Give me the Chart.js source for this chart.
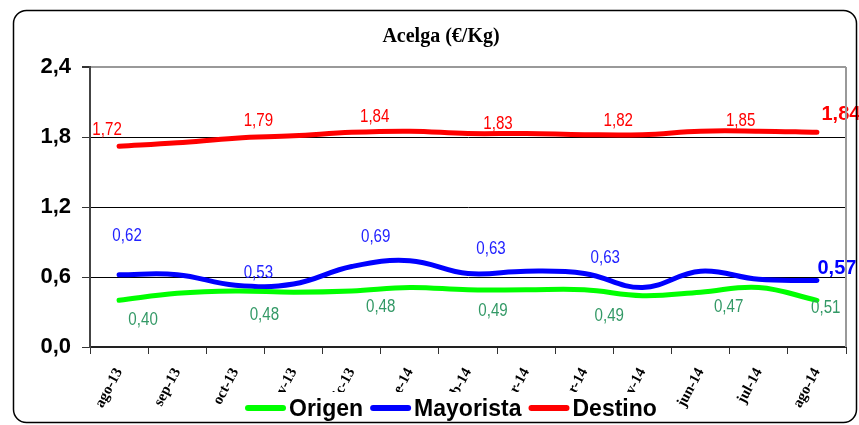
<!DOCTYPE html>
<html>
<head>
<meta charset="utf-8">
<script src="https://cdn.jsdelivr.net/npm/chart.js@4.4.1/dist/chart.umd.min.js"></script>
<style>
  body { margin: 0; background: #fff; }
</style>
</head>
<body>
<canvas id="myChart" width="859" height="425"></canvas>
<script>
const months = ["ago-13", "sep-13", "oct-13", "nov-13", "dic-13", "ene-14", "feb-14",
  "mar-14", "abr-14", "may-14", "jun-14", "jul-14", "ago-14"];
const origen = [0.40, 0.46, 0.48, 0.47, 0.48, 0.51, 0.49, 0.49, 0.49, 0.44, 0.47, 0.51, 0.40];
const mayorista = [0.62, 0.62, 0.53, 0.54, 0.69, 0.74, 0.63, 0.65, 0.63, 0.51, 0.65, 0.58, 0.57];
const destino = [1.72, 1.75, 1.79, 1.81, 1.84, 1.85, 1.83, 1.83, 1.82, 1.82, 1.85, 1.85, 1.84];
const yTicks = [0, 0.6, 1.2, 1.8, 2.4];

// which points get a value label, and where it sits relative to the point
const labelSpots = [
  [{ i: 0, dx: 24, dy: 20 }, { i: 2, dx: 29, dy: 24 }, { i: 4, dx: 29, dy: 16 },
   { i: 6, dx: 25, dy: 21 }, { i: 8, dx: 25, dy: 26 }, { i: 10, dx: 28, dy: 15 },
   { i: 11, dx: 67, dy: 21 }],
  [{ i: 0, dx: 8, dy: -39 }, { i: 2, dx: 23, dy: -12 }, { i: 4, dx: 24, dy: -29 },
   { i: 6, dx: 23, dy: -24 }, { i: 8, dx: 21, dy: -15 }, { i: 12, dx: 20, dy: -12, big: true }],
  [{ i: 0, dx: -12, dy: -16 }, { i: 2, dx: 23, dy: -17 }, { i: 4, dx: 23, dy: -15 },
   { i: 6, dx: 30, dy: -9 }, { i: 8, dx: 34, dy: -14 }, { i: 10, dx: 40, dy: -10 },
   { i: 12, dx: 24, dy: -18, big: true }]
];
const labelColors = ["#339966", "#2222ff", "#ff0000"];
const sans = '"Liberation Sans", Arial, sans-serif';

const fmt = (v) => v.toFixed(2).replace(".", ",");

const valueLabels = {
  id: "valueLabels",
  afterDatasetsDraw(chart) {
    const ctx = chart.ctx;
    chart.data.datasets.forEach((ds, d) => {
      const meta = chart.getDatasetMeta(d);
      labelSpots[d].forEach((s) => {
        const pt = meta.data[s.i];
        ctx.save();
        ctx.textAlign = "center";
        ctx.textBaseline = "middle";
        ctx.translate(pt.x + s.dx, pt.y + s.dy);
        if (s.big) {
          ctx.fillStyle = ds.borderColor;
          ctx.font = "bold 20px " + sans;
        } else {
          // condensed look of the original labels
          ctx.scale(0.84, 1);
          ctx.fillStyle = labelColors[d];
          ctx.font = "18px " + sans;
        }
        ctx.fillText(fmt(ds.data[s.i]), 0, 0);
        ctx.restore();
      });
    });
  }
};

const frame = {
  id: "frame",
  afterDraw(chart) {
    const ctx = chart.ctx;
    const a = chart.chartArea;
    ctx.save();
    // right edge of plot area
    ctx.strokeStyle = "#999";
    ctx.lineWidth = 2;
    ctx.beginPath();
    ctx.moveTo(a.right, a.top);
    ctx.lineTo(a.right, a.bottom);
    ctx.stroke();

    // title
    ctx.fillStyle = "#000";
    ctx.font = 'bold 20px "Liberation Serif", "Times New Roman", serif';
    ctx.textAlign = "center";
    ctx.textBaseline = "middle";
    ctx.fillText("Acelga (€/Kg)", 441, 37);

    // legend, drawn over the lower part of the month labels
    ctx.fillStyle = "#fff";
    ctx.fillRect(244, 392, 422, 31);
    ctx.font = "bold 23px " + sans;
    ctx.textAlign = "left";
    let x = 248;
    chart.data.datasets.forEach((ds) => {
      ctx.strokeStyle = ds.borderColor;
      ctx.lineWidth = 6;
      ctx.lineCap = "round";
      ctx.beginPath();
      ctx.moveTo(x, 408);
      ctx.lineTo(x + 35, 408);
      ctx.stroke();
      ctx.fillStyle = "#000";
      ctx.fillText(ds.label, x + 41, 410);
      x += 41 + ctx.measureText(ds.label).width + 10;
    });

    // outer rounded border
    ctx.strokeStyle = "#000";
    ctx.lineWidth = 1.5;
    ctx.beginPath();
    ctx.roundRect(13.5, 10.5, 843, 412, 13);
    ctx.stroke();
    ctx.restore();
  }
};

const lineStyle = { borderWidth: 5, pointRadius: 0, tension: 0.4, borderCapStyle: "round", fill: false };

new Chart(document.getElementById("myChart"), {
  type: "line",
  data: {
    labels: months,
    datasets: [
      { label: "Origen", data: origen, borderColor: "#00ff00", ...lineStyle },
      { label: "Mayorista", data: mayorista, borderColor: "#0000ff", ...lineStyle },
      { label: "Destino", data: destino, borderColor: "#ff0000", ...lineStyle },
    ],
  },
  options: {
    responsive: false,
    animation: false,
    layout: { padding: { left: 0, top: 67, right: 13, bottom: 0 } },
    plugins: { legend: { display: false }, title: { display: false }, tooltip: { enabled: false } },
    scales: {
      x: {
        offset: true,
        afterFit: (s) => { s.height = 78; },
        grid: { offset: true, drawOnChartArea: false, drawTicks: true, tickLength: 7, tickColor: "#333" },
        border: { color: "#222", width: 2 },
        ticks: {
          minRotation: 62,
          maxRotation: 62,
          padding: 11,
          color: "#000",
          font: { family: '"Liberation Serif", "Times New Roman", serif', size: 15, weight: "bold" },
        },
      },
      y: {
        min: 0,
        max: 2.4,
        afterFit: (s) => { s.width = 90; },
        afterBuildTicks: (s) => { s.ticks = yTicks.map((v) => ({ value: v })); },
        grid: {
          color: (c) => (c.tick.value === 0 ? "rgba(0,0,0,0)" : c.tick.value === 2.4 ? "#999" : "#000"),
          lineWidth: (c) => (c.tick.value === 2.4 ? 2 : 1),
          tickLength: 8,
          tickColor: "#333",
        },
        border: { color: "#444", width: 2 },
        ticks: {
          padding: 11,
          color: "#000",
          font: { family: sans, size: 22, weight: "bold" },
          callback: (v) => v.toFixed(1).replace(".", ","),
        },
      },
    },
  },
  plugins: [valueLabels, frame],
});
</script>
</body>
</html>
